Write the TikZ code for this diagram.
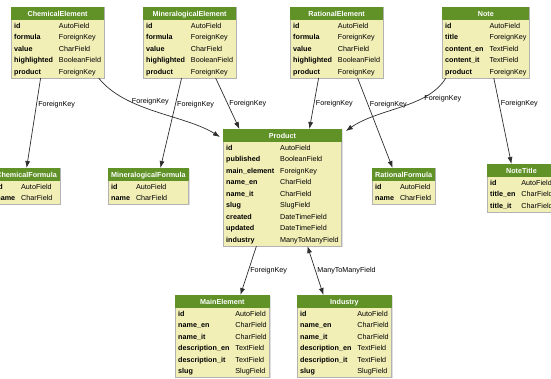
\documentclass[tikz,border=0pt]{standalone}
\usepackage{fontspec}
\setmainfont{Liberation Sans}
\usepackage{colortbl}
\usetikzlibrary{arrows.meta,shadows}

\definecolor{hdrgreen}{RGB}{96,146,40}
\definecolor{bodyyellow}{RGB}{241,238,182}
\definecolor{edgegray}{RGB}{45,45,45}

\setlength{\tabcolsep}{3pt}

% one model box: title, then rows "field & type \\ ..."
\newcommand{\dbtable}[2]{%
  \renewcommand{\arraystretch}{1.2}%
  \begin{tabular}{>{\bfseries}l l}
    \multicolumn{2}{c}{\cellcolor{hdrgreen}\color{white}\bfseries\rule[-3.5pt]{0pt}{13pt}#1}\\
    #2
  \end{tabular}}

\tikzset{
  dbtable/.style={draw=gray!60, fill=bodyyellow, inner sep=0pt, anchor=north west,
    font=\fontsize{7.2}{9.6}\selectfont,
    drop shadow={shadow xshift=1pt, shadow yshift=-1pt, opacity=0.25}},
  fk/.style={draw=edgegray, line width=0.7pt, -{Latex[length=7pt,width=5pt]}},
  m2m/.style={draw=edgegray, line width=0.7pt, {Latex[length=7pt,width=5pt]}-{Latex[length=7pt,width=5pt]}},
  fklabel/.style={font=\fontsize{7.2}{8}\selectfont, inner sep=1.5pt},
}

\begin{document}
\begin{tikzpicture}[x=1pt,y=-1pt]
  \useasboundingbox (0,0) rectangle (551,378);

  % top row
  \node[dbtable] (chem) at (11,7) {\dbtable{ChemicalElement}{%
    id & AutoField\\ formula & ForeignKey\\ value & CharField\\
    highlighted & BooleanField\\ product & ForeignKey}};
  \node[dbtable] (minel) at (143,7) {\dbtable{MineralogicalElement}{%
    id & AutoField\\ formula & ForeignKey\\ value & CharField\\
    highlighted & BooleanField\\ product & ForeignKey}};
  \node[dbtable] (ratel) at (290,7) {\dbtable{RationalElement}{%
    id & AutoField\\ formula & ForeignKey\\ value & CharField\\
    highlighted & BooleanField\\ product & ForeignKey}};
  \node[dbtable] (note) at (442,7) {\dbtable{Note}{%
    id & AutoField\\ title & ForeignKey\\ content\_en & TextField\\
    content\_it & TextField\\ product & ForeignKey}};

  % middle row
  \node[dbtable, anchor=north east] (chemf) at (60,168) {\dbtable{ChemicalFormula}{%
    id & AutoField\\ name & CharField}};
  \node[dbtable] (minf) at (108,168) {\dbtable{MineralogicalFormula}{%
    id & AutoField\\ name & CharField}};
  \node[dbtable] (product) at (223,129) {\dbtable{Product}{%
    id & AutoField\\ published & BooleanField\\ main\_element & ForeignKey\\
    name\_en & CharField\\ name\_it & CharField\\ slug & SlugField\\
    created & DateTimeField\\ updated & DateTimeField\\ industry & ManyToManyField}};
  \node[dbtable] (ratf) at (372,168) {\dbtable{RationalFormula}{%
    id & AutoField\\ name & CharField}};
  \node[dbtable] (notetitle) at (487,164) {\dbtable{NoteTitle}{%
    id & AutoField\\ title\_en & CharField\\ title\_it & CharField}};

  % bottom row
  \node[dbtable] (mainel) at (175,295) {\dbtable{MainElement}{%
    id & AutoField\\ name\_en & CharField\\ name\_it & CharField\\
    description\_en & TextField\\ description\_it & TextField\\ slug & SlugField}};
  \node[dbtable] (industry) at (297,295) {\dbtable{Industry}{%
    id & AutoField\\ name\_en & CharField\\ name\_it & CharField\\
    description\_en & TextField\\ description\_it & TextField\\ slug & SlugField}};

  % relations
  \draw[fk] ([xshift=-17pt]chem.south) -- node[fklabel, pos=.3, right] {ForeignKey} (chemf.north);
  \draw[fk] ([xshift=41pt]chem.south) .. controls +(27,34) and +(-35,-22)
    .. node[fklabel, pos=.3, right] {ForeignKey} ([shift={(-3,8)}]product.north west);
  \draw[fk] ([xshift=-8pt]minel.south) -- node[fklabel, pos=.3, right] {ForeignKey} ([xshift=12pt]minf.north);
  \draw[fk] ([xshift=26pt]minel.south) -- node[fklabel, pos=.5, right] {ForeignKey} ([xshift=-43pt]product.north);
  \draw[fk] ([xshift=-18pt]ratel.south) -- node[fklabel, pos=.5, right] {ForeignKey} ([xshift=27pt]product.north);
  \draw[fk] ([xshift=21pt]ratel.south) -- node[fklabel, pos=.3, right] {ForeignKey} ([xshift=-11pt]ratf.north);
  \draw[fk] ([xshift=-40pt]note.south) .. controls +(-18,30) and +(33,-23)
    .. node[fklabel, pos=.3, right] {ForeignKey} ([shift={(4,2)}]product.north east);
  \draw[fk] ([xshift=8pt]note.south) -- node[fklabel, pos=.3, right] {ForeignKey} ([xshift=-10pt]notetitle.north);
  \draw[fk] ([xshift=-26pt]product.south) -- node[fklabel, pos=.5, right] {ForeignKey} ([xshift=18pt]mainel.north);
  \draw[m2m] ([xshift=25pt]product.south) -- node[fklabel, pos=.5, right] {ManyToManyField} ([xshift=-21pt]industry.north);
\end{tikzpicture}
\end{document}
